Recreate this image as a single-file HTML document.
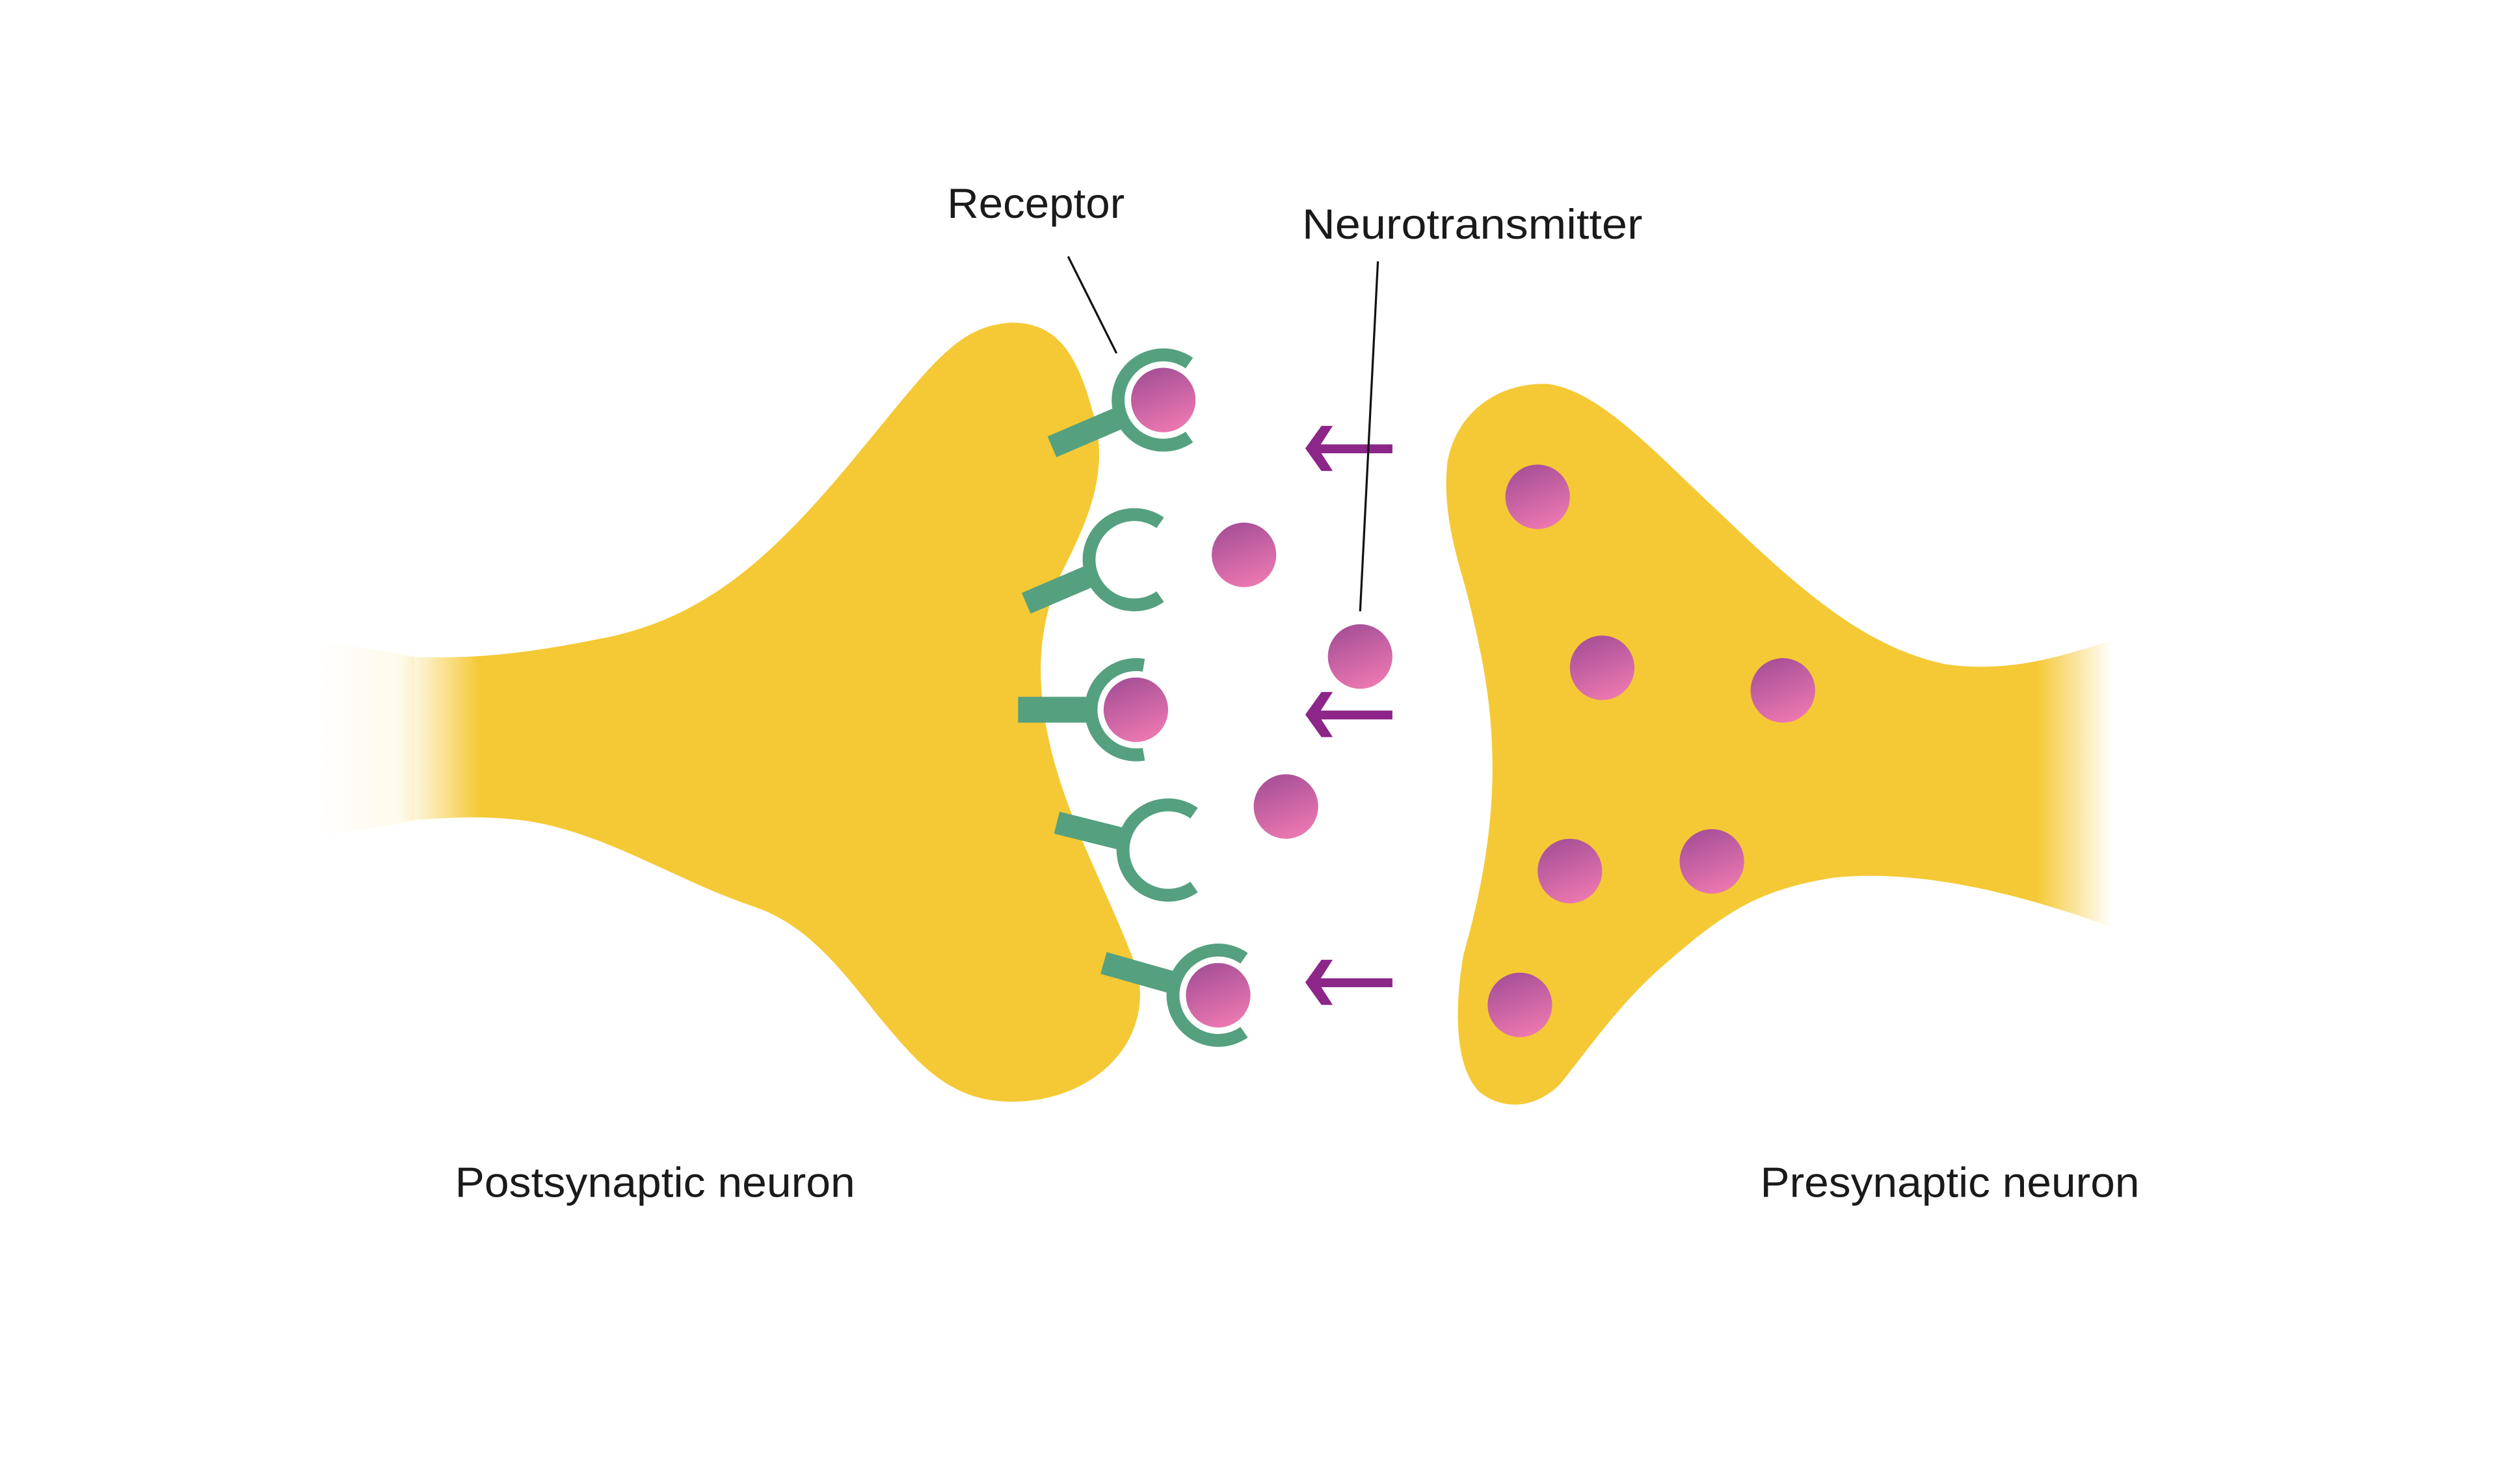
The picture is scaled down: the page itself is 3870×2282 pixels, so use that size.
<!DOCTYPE html>
<html><head><meta charset="utf-8"><style>html,body{margin:0;padding:0;background:#fff;overflow:hidden}svg{display:block}</style></head><body>
<svg width="3870" height="2282" viewBox="0 0 1560 920" preserveAspectRatio="none" xmlns="http://www.w3.org/2000/svg">
<defs>
<linearGradient id="dot" x1="0.3" y1="0" x2="0.7" y2="1"><stop offset="0" stop-color="#A64F97"/><stop offset="1" stop-color="#EE79B1"/></linearGradient>
<linearGradient id="lf" gradientUnits="userSpaceOnUse" x1="252" y1="0" x2="300" y2="0"><stop offset="0" stop-color="#F5C935" stop-opacity="0"/><stop offset="1" stop-color="#F5C935"/></linearGradient>
<linearGradient id="lf2" gradientUnits="userSpaceOnUse" x1="200" y1="0" x2="260" y2="0"><stop offset="0" stop-color="#F5C935" stop-opacity="0"/><stop offset="1" stop-color="#F5C935" stop-opacity="0.12"/></linearGradient>
<linearGradient id="rf" gradientUnits="userSpaceOnUse" x1="1265" y1="0" x2="1312" y2="0"><stop offset="0" stop-color="#F5C935"/><stop offset="1" stop-color="#F5C935" stop-opacity="0"/></linearGradient>
</defs>
<rect width="1560" height="920" fill="#fff"/>
<g transform="translate(-3,-3)">
<path fill="url(#lf2)" d="M200,400 L260,410 L260,512 L200,522 Z"/>
<!-- left neuron -->
<path fill="url(#lf)" d="M250,410 C300,412 330,408 380,398 C440,385 480,350 530,290 C580,230 595,205 630,203 C660,203 672,225 682,265 C690,300 675,330 660,360 C645,395 645,430 655,470 C668,520 692,560 708,605 C718,650 680,686 630,686 C590,686 570,660 545,630 C520,598 500,575 470,565 C420,548 380,520 330,512 C300,508 280,510 250,512 Z"/>
<!-- right neuron -->
<path fill="url(#rf)" d="M1312,400 C1280,410 1250,420 1210,415 C1160,405 1120,370 1070,322 C1030,285 995,245 962,241 C930,240 905,260 900,290 C897,320 905,345 912,370 C922,410 928,440 928,480 C928,520 920,560 910,595 C904,630 905,665 920,680 C935,692 955,690 970,675 C990,650 1005,628 1030,605 C1070,570 1090,555 1140,547 C1190,542 1250,555 1312,578 Z"/>
<!-- receptors -->
<g stroke="#55A07F" fill="none">
<line x1="697" y1="262" x2="655" y2="280" stroke-width="14"/>
<path d="M740.1,228.1 A28,28 0 1,0 740.1,273.9" stroke-width="8"/>
<line x1="681" y1="359" x2="639" y2="377" stroke-width="14"/>
<path d="M722.1,327.1 A28,28 0 1,0 722.1,372.9" stroke-width="8"/>
<line x1="682" y1="443" x2="634" y2="443" stroke-width="16"/>
<path d="M711.9,415.4 A28,28 0 1,0 711.9,470.6" stroke-width="8"/>
<line x1="702" y1="524" x2="658" y2="513" stroke-width="14"/>
<path d="M743.1,507.1 A28,28 0 1,0 743.1,552.9" stroke-width="8"/>
<line x1="733" y1="613" x2="687" y2="600" stroke-width="14"/>
<path d="M774.1,597.1 A28,28 0 1,0 774.1,642.9" stroke-width="8"/>
</g>
<!-- dots -->
<g fill="url(#dot)">
<circle cx="724" cy="251" r="20"/><circle cx="774" cy="347" r="20"/><circle cx="846" cy="410" r="20"/>
<circle cx="707" cy="443" r="20"/><circle cx="800" cy="503" r="20"/><circle cx="758" cy="620" r="20"/>
<circle cx="956" cy="311" r="20"/><circle cx="996" cy="417" r="20"/><circle cx="1108" cy="431" r="20"/>
<circle cx="976" cy="543" r="20"/><circle cx="1064" cy="537" r="20"/><circle cx="945" cy="626" r="20"/>
</g>
<!-- arrows -->
<g fill="#8C2689">
<rect x="820" y="278.5" width="46" height="5.5"/><polygon points="812,281 822,267 829,267 820,281 829,295 822,295"/>
<rect x="820" y="443.5" width="46" height="5.5"/><polygon points="812,446 822,432 829,432 820,446 829,460 822,460"/>
<rect x="820" y="609.5" width="46" height="5.5"/><polygon points="812,612 822,598 829,598 820,612 829,626 822,626"/>
</g>
<!-- leader lines -->
<g stroke="#111" stroke-width="1.3">
<line x1="665" y1="162" x2="695" y2="222"/>
<line x1="857" y1="165" x2="846" y2="382"/>
</g>
<g font-family="'Liberation Sans', sans-serif" font-size="26" fill="#1a1a1a">
<text x="590" y="138" textLength="110" lengthAdjust="spacingAndGlyphs">Receptor</text>
<text x="810" y="151" textLength="211" lengthAdjust="spacingAndGlyphs">Neurotransmitter</text>
<text x="285" y="745" textLength="248" lengthAdjust="spacingAndGlyphs">Postsynaptic neuron</text>
<text x="1094" y="745" textLength="235" lengthAdjust="spacingAndGlyphs">Presynaptic neuron</text>
</g>
</g>
</svg>
</body></html>
